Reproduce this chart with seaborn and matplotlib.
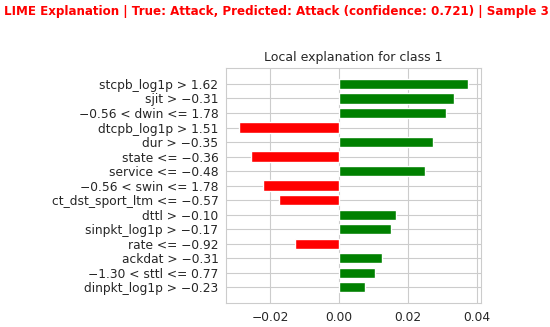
import pandas as pd
import matplotlib.pyplot as plt
import seaborn as sns

# LIME feature weights, top to bottom as drawn
features = ['stcpb_log1p > 1.62', 'sjit > \u22120.31', '\u22120.56 < dwin <= 1.78',
            'dtcpb_log1p > 1.51', 'dur > \u22120.35', 'state <= \u22120.36',
            'service <= \u22120.48', '\u22120.56 < swin <= 1.78', 'ct_dst_sport_ltm <= \u22120.57',
            'dttl > \u22120.10', 'sinpkt_log1p > \u22120.17', 'rate <= \u22120.92',
            'ackdat > \u22120.31', '\u22121.30 < sttl <= 0.77', 'dinpkt_log1p > \u22120.23']
weights = [0.0373, 0.0332, 0.0310, -0.0290, 0.0272, -0.0257, 0.0250, -0.0220,
           -0.0175, 0.0164, 0.0151, -0.0127, 0.0124, 0.0105, 0.0074]

df = pd.DataFrame({'feature': features, 'weight': weights})
df['sign'] = ['pos' if w > 0 else 'neg' for w in weights]

sns.set_style('whitegrid')
fig = plt.figure(figsize=(5.5, 3.27), dpi=100)
ax = fig.add_axes([0.411, 0.073, 0.464, 0.719])

sns.barplot(data=df, x='weight', y='feature', hue='sign', orient='h',
            palette={'pos': 'green', 'neg': 'red'}, saturation=1,
            width=0.7, legend=False, ax=ax)

ax.set_ylim(15.1, -1.1)
ax.set_xlim(-0.0328, 0.0412)
ax.set_xticks([-0.02, 0.0, 0.02, 0.04])
ax.set_xticklabels(['\u22120.02', '0.00', '0.02', '0.04'])
ax.set_xlabel('')
ax.set_ylabel('')
ax.grid(True, axis='both', color='.8')
ax.set_axisbelow(True)
ax.tick_params(axis='both', labelsize=8.8, pad=2)
ax.set_title('Local explanation for class 1', fontsize=9.0, pad=5)

fig.suptitle('LIME Explanation | True: Attack, Predicted: Attack (confidence: 0.721) | Sample 3',
             color='red', fontweight='bold', fontsize=8.55, x=0.502, y=0.985)

fig.savefig('out.png', dpi=100)
